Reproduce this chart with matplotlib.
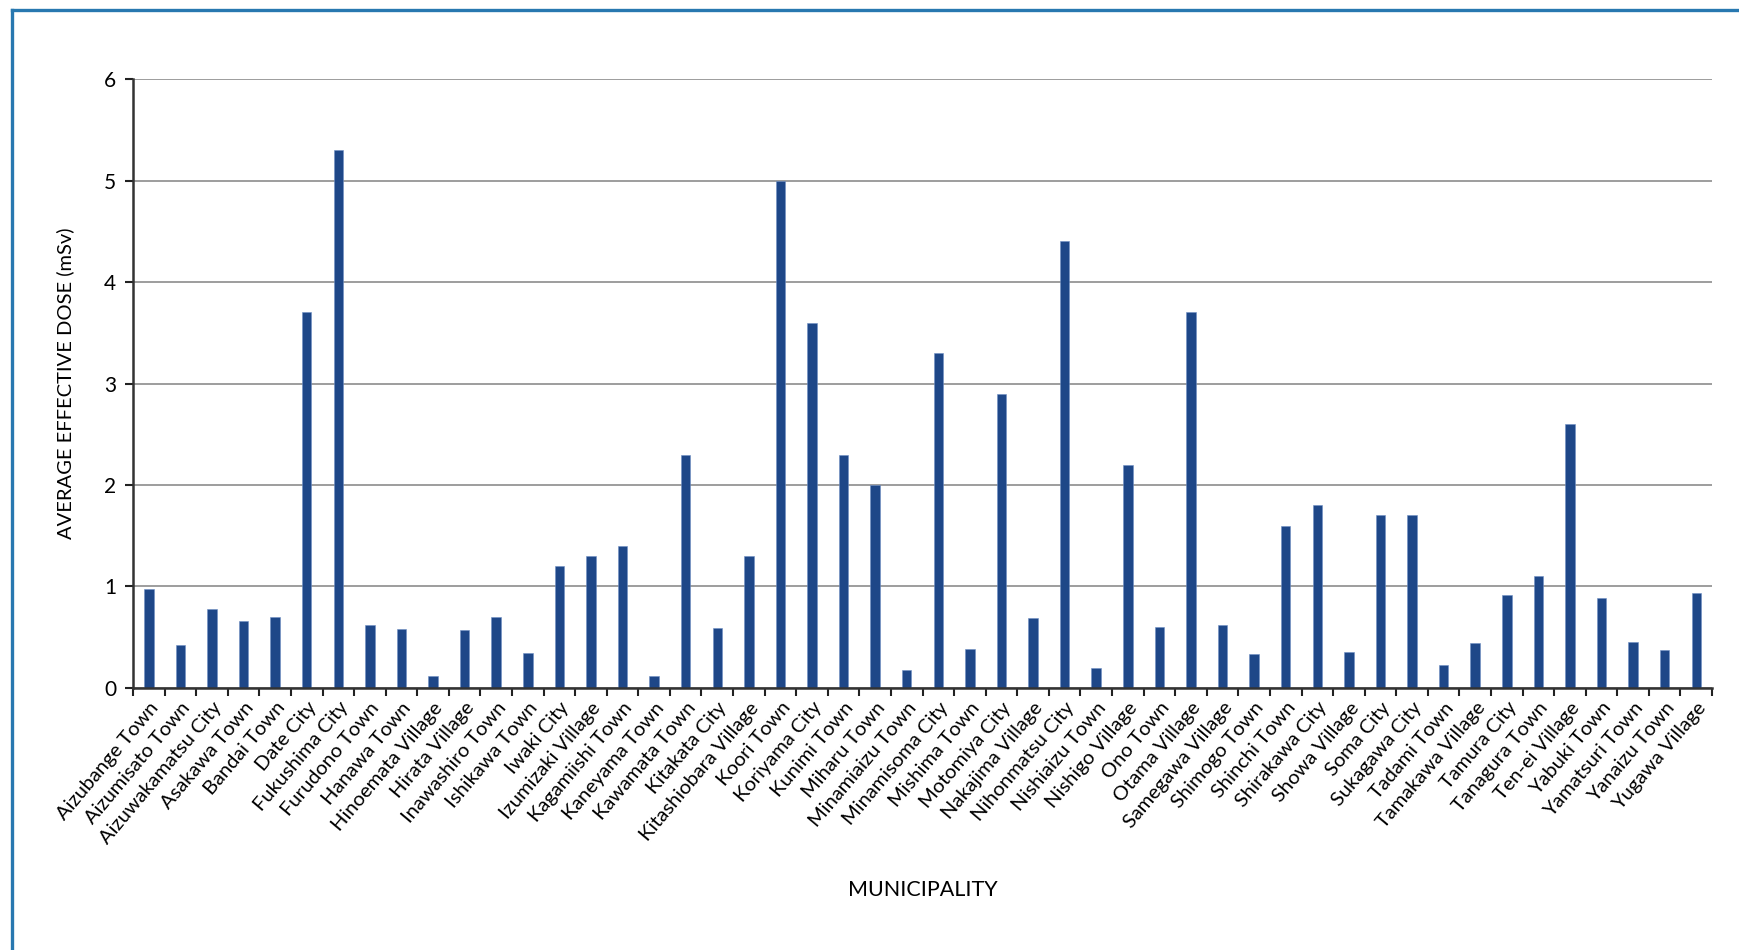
import matplotlib
matplotlib.use("Agg")
import matplotlib.pyplot as plt
from matplotlib.lines import Line2D
import numpy as np

plt.rcParams['font.family'] = ['Lato', 'DejaVu Sans']

municipalities = [
    "Aizubange Town", "Aizumisato Town", "Aizuwakamatsu City", "Asakawa Town",
    "Bandai Town", "Date City", "Fukushima City", "Furudono Town", "Hanawa Town",
    "Hinoemata Village", "Hirata Village", "Inawashiro Town", "Ishikawa Town",
    "Iwaki City", "Izumizaki Village", "Kagamiishi Town", "Kaneyama Town",
    "Kawamata Town", "Kitakata City", "Kitashiobara Village", "Koori Town",
    "Koriyama City", "Kunimi Town", "Miharu Town", "Minamiaizu Town",
    "Minamisoma City", "Mishima Town", "Motomiya City", "Nakajima Village",
    "Nihonmatsu City", "Nishiaizu Town", "Nishigo Village", "Ono Town",
    "Otama Village", "Samegawa Village", "Shimogo Town", "Shinchi Town",
    "Shirakawa City", "Showa Village", "Soma City", "Sukagawa City",
    "Tadami Town", "Tamakawa Village", "Tamura City", "Tanagura Town",
    "Ten-ei Village", "Yabuki Town", "Yamatsuri Town", "Yanaizu Town",
    "Yugawa Village",
]
dose = [
    0.98, 0.42, 0.78, 0.66, 0.70, 3.7, 5.3, 0.62, 0.58, 0.12,
    0.57, 0.70, 0.34, 1.2, 1.3, 1.4, 0.12, 2.3, 0.59, 1.3,
    5.0, 3.6, 2.3, 2.0, 0.18, 3.3, 0.38, 2.9, 0.69, 4.4,
    0.20, 2.2, 0.60, 3.7, 0.62, 0.33, 1.6, 1.8, 0.35, 1.7,
    1.7, 0.23, 0.44, 0.92, 1.1, 2.6, 0.89, 0.45, 0.37, 0.94,
]
y_ticks = [0, 1, 2, 3, 4, 5, 6]

fig = plt.figure(figsize=(17.39, 9.5), dpi=100)
ax = fig.add_axes([0.0765, 0.2758, 0.908, 0.641])

x = np.arange(len(municipalities))
ax.bar(x, dose, width=0.3, color='#1e4788', edgecolor='#6f8fc4', linewidth=0.4, zorder=3)

ax.set_xlim(-0.5, len(municipalities) - 0.5)
ax.set_ylim(0, 6)
ax.set_yticks(y_ticks)
ax.set_yticklabels([str(t) for t in y_ticks], fontsize=15)
ax.yaxis.grid(True, color='#8c8c8c', linewidth=1.2, zorder=0)

ax.set_xticks(x)
ax.set_xticklabels(municipalities, rotation=50, ha='right', rotation_mode='anchor', fontsize=14.5)
ax.tick_params(axis='x', length=0, pad=8)
ax.set_xticks(np.arange(len(municipalities) + 1) - 0.5, minor=True)
ax.tick_params(axis='x', which='minor', length=6, width=1.5, color='#222222', direction='out')
ax.tick_params(axis='y', length=6, width=1.5, color='#222222', pad=6)

for side in ['top', 'right']:
    ax.spines[side].set_visible(False)
for side in ['left', 'bottom']:
    ax.spines[side].set_color('#333333')
    ax.spines[side].set_linewidth(1.8)
ax.spines['left'].set_zorder(4)
ax.spines['bottom'].set_zorder(4)

ax.set_ylabel('AVERAGE EFFECTIVE DOSE (mSv)', fontsize=14.5)
ax.yaxis.set_label_coords(-0.037, 0.5)
ax.set_xlabel('MUNICIPALITY', fontsize=15.5)
ax.xaxis.set_label_coords(0.5, -0.315)

# blue frame around the figure (left and top edges visible)
fig.add_artist(Line2D([12 / 1739, 12 / 1739], [0, 1 - 10 / 950], color='#2878b0', linewidth=2.4,
                      transform=fig.transFigure))
fig.add_artist(Line2D([12 / 1739, 1], [1 - 10 / 950, 1 - 10 / 950], color='#2878b0', linewidth=2.4,
                      transform=fig.transFigure))

fig.savefig('out.png', dpi=100, facecolor='white')
